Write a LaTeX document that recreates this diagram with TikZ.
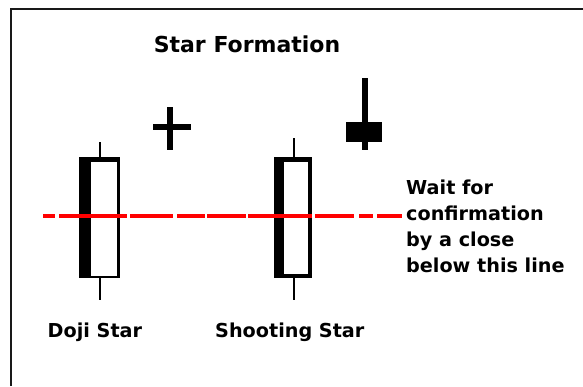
\documentclass[tikz,border=0pt]{standalone}
\usepackage{fontspec}
\setmainfont{DejaVu Sans}
\begin{document}
\begin{tikzpicture}[x=1pt,y=-1pt,
  frame/.style={line width=2.5pt,draw=black!90},
  bodyfill/.style={fill=black},
  hollow/.style={fill=white},
  wick/.style={line width=1.3pt,draw=black},
  confline/.style={line width=4.3pt,draw=red,dash pattern=on 12pt off 4pt on 68pt off 3pt on 43pt off 4pt on 28pt off 2pt on 39pt off 2pt on 64pt off 3pt on 39pt off 5pt on 14pt off 4pt on 25pt off 40pt},
  lbl/.style={inner sep=0pt,font=\bfseries\fontsize{19.2}{26}\selectfont},
  ttl/.style={inner sep=0pt,font=\bfseries\fontsize{22}{26}\selectfont}]
\useasboundingbox (0,0) rectangle (583,386);
\fill[white] (0,0) rectangle (583,386);
% frame
\draw[frame] (11,386) -- (11,9.2) -- (583,9.2);
% title
\node[ttl,anchor=base] (title) at (247,52) {Star Formation};
% doji star candle (long white)
\draw[wick] (100,142) -- (100,157);
\draw[wick] (100,278) -- (100,300);
\fill[bodyfill] (79.3,156.7) rectangle (120,278.3);
\fill[hollow] (90.7,162) rectangle (117.3,275.7);
% doji cross
\fill[bodyfill] (152.7,124) rectangle (190.7,130.2);
\fill[bodyfill] (166.8,107) rectangle (173.3,150);
% shooting star candle (long white)
\draw[wick] (294,138.3) -- (294,157);
\draw[wick] (294,278) -- (294,300);
\fill[bodyfill] (274.3,156.7) rectangle (312.3,278.3);
\fill[hollow] (284,161.7) rectangle (308.3,274.3);
% shooting star
\fill[bodyfill] (361.8,78.3) rectangle (368.3,150);
\fill[bodyfill] (345.7,121.7) rectangle (382.3,142.3);
% confirmation line
\coordinate (ls) at (43.3,216);
\coordinate (le) at (402,216);
\draw[confline] (ls) -- (le);
% labels
\node[lbl,anchor=north west,align=left] (note) at (406,179.5) {Wait for\\confirmation\\by a close\\below this line};
\node[lbl,anchor=base west] (doji) at (47.5,337) {Doji Star};
\node[lbl,anchor=base west] (shoot) at (215,337) {Shooting Star};
\end{tikzpicture}
\end{document}
